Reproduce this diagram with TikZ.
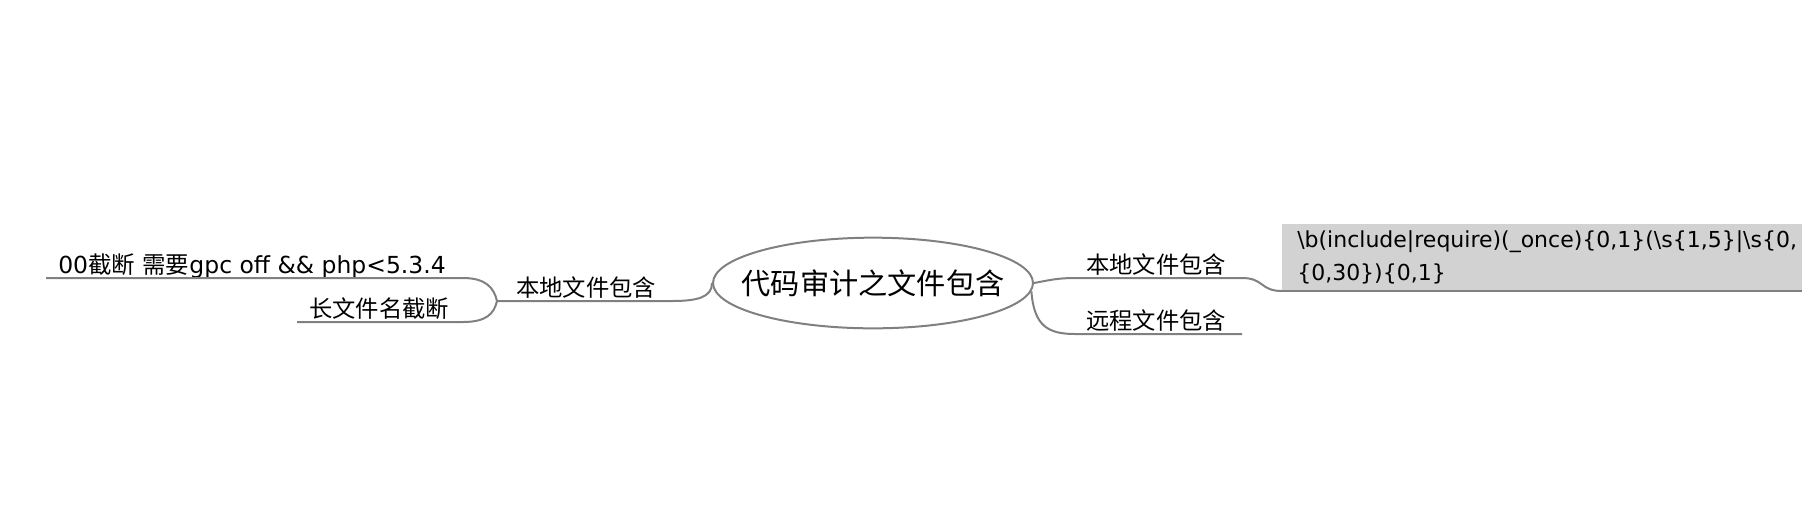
\documentclass[tikz,border=0pt]{standalone}
\usepackage{fontspec}
\setmainfont{DejaVu Sans}
\newfontfamily\cjk{Noto Sans CJK SC}
\usetikzlibrary{shapes.geometric}
\definecolor{linegray}{RGB}{128,128,128}
\definecolor{boxgray}{RGB}{210,210,210}
\begin{document}
\begin{tikzpicture}[x=0.75pt,y=-0.75pt,
  conn/.style={draw=linegray, line width=1.5pt},
  lbl/.style={inner sep=0pt, anchor=base west, font=\fontsize{17.6}{21}\selectfont},
  cjklbl/.style={inner sep=0pt, anchor=base west, font=\cjk\fontsize{17.5}{21}\selectfont},
  rxlbl/.style={inner sep=0pt, anchor=base west, font=\fontsize{16.5}{20}\selectfont}]
\useasboundingbox (0,0) rectangle (1802,512);
\clip (0,0) rectangle (1802,512);
% root
\node[ellipse, draw=linegray, line width=1.5pt, minimum width=240pt, minimum height=68pt,
      inner sep=0pt, font=\cjk\fontsize{21.9}{24}\selectfont] (root) at (873,283)
      {\makebox[0pt]{代码审计之文件包含}};
% right side
\node[fill=boxgray, inner sep=0pt, minimum width=450pt, minimum height=50.25pt, anchor=south west] (rxbox) at (1282,291) {};
\node[rxlbl] (rxa) at (1297,247) {\textbackslash b(include|require)(\_once)\{0,1\}(\textbackslash s\{1,5\}|\textbackslash s\{0,};
\node[rxlbl] (rxb) at (1297,280) {\{0,30\})\{0,1\}};
\draw[conn] (rxbox.south west) -- (rxbox.south east);
\node[cjklbl] (rlocal) at (1086,273) {本地文件包含};
\node[cjklbl] (rremote) at (1086,329) {远程文件包含};
\coordinate (r1a) at (1075,278);
\coordinate (r1b) at (1242,278);
\coordinate (r2a) at (1075,334);
\coordinate (r2b) at (1242,334);
\draw[conn] (root.east) .. controls (1050,280) and (1058,278) .. (r1a) -- (r1b)
            .. controls (1264,278) and (1260,291) .. (rxbox.south west);
\draw[conn] (root.-3) .. controls (1034,326) and (1048,334) .. (r2a) -- (r2b);
% left side
\node[cjklbl] (llocal) at (516,296) {本地文件包含};
\node[cjklbl] (lname) at (309,317) {长文件名截断};
\node[lbl] (lnull) at (58,273) {00{\cjk 截断} {\cjk 需要}gpc off \&\& php<5.3.4};
\coordinate (ljunc) at (497,301);
\coordinate (l0a) at (672,301);
\coordinate (l1a) at (463,278);
\coordinate (l1b) at (46,278);
\coordinate (l2a) at (463,322);
\coordinate (l2b) at (297,322);
\draw[conn] (root.west) .. controls (712,297) and (698,301) .. (l0a) -- (ljunc);
\draw[conn] (ljunc) .. controls (494,288) and (486,278) .. (l1a) -- (l1b);
\draw[conn] (ljunc) .. controls (494,314) and (486,322) .. (l2a) -- (l2b);
\end{tikzpicture}
\end{document}
